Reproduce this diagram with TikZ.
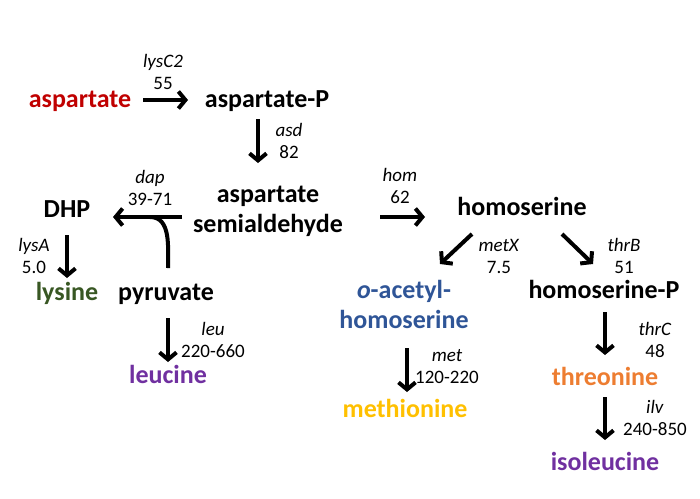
\documentclass[tikz,border=0pt]{standalone}
\usepackage{fontspec}
\setmainfont{Carlito}
\usetikzlibrary{arrows.meta,calc}
\definecolor{aspred}{HTML}{C00000}
\definecolor{lysgreen}{HTML}{385723}
\definecolor{aapurple}{HTML}{7030A0}
\definecolor{oahblue}{HTML}{2F5597}
\definecolor{metyellow}{HTML}{FFC000}
\definecolor{throrange}{HTML}{ED7D31}

\begin{document}
\begin{tikzpicture}[x=1pt,y=-1pt,
 met/.style={font=\fontsize{26}{30}\selectfont\bfseries,inner sep=0pt,anchor=base,align=center},
 enz/.style={font=\fontsize{19}{22}\selectfont,inner sep=0pt,anchor=base,align=center},
 rx/.style={line width=4pt,-{Straight Barb[length=7pt,width=17pt]}}]
\useasboundingbox (0,0) rectangle (700,498);
% metabolites
\node[met,aspred] (asp) at (80,107) {aspartate};
\node[met] (aspP) at (267,107) {aspartate-P};
\node[met] (semi) at (268,232) {aspartate\\semialdehyde};
\node[met] (DHP) at (67,217) {DHP};
\node[met,lysgreen] (lys) at (67,300) {lysine};
\node[met] (pyr) at (166,300) {pyruvate};
\node[met,aapurple] (leuc) at (168,383) {leucine};
\node[met] (homs) at (522,215) {homoserine};
\node[met,oahblue] (oah) at (404,328) {\textit{o}-acetyl-\\homoserine};
\node[met] (homP) at (604,298) {homoserine-P};
\node[met,metyellow] (meth) at (405,417) {methionine};
\node[met,throrange] (thr) at (605,385) {threonine};
\node[met,aapurple] (ile) at (605,470) {isoleucine};
% enzymes
\node[enz] (e1) at (163,89) {\textit{lysC2}\\55};
\node[enz] (e2) at (289,158) {\textit{asd}\\82};
\node[enz] (e3) at (150,205) {\textit{dap}\\39-71};
\node[enz] (e4) at (34,273) {\textit{lysA}\\5.0};
\node[enz] (e5) at (213,357) {\textit{leu}\\220-660};
\node[enz] (e6) at (400,203) {\textit{hom}\\62};
\node[enz] (e7) at (499,273) {\textit{metX}\\7.5};
\node[enz] (e8) at (624,273) {\textit{thrB}\\51};
\node[enz] (e9) at (447,383) {\textit{met}\\120-220};
\node[enz] (e10) at (655,357) {\textit{thrC}\\48};
\node[enz] (e11) at (655,435) {\textit{ilv}\\240-850};
% reactions
\draw[rx] ($(asp.base)+(63,-7)$) -- ($(aspP.base)+(-79,-7)$);
\draw[rx] ($(aspP.base)+(-9,12)$) -- ($(semi.base)+(-10,-69)$);
\draw[rx] ($(semi.base)+(-86,-15)$) -- ($(DHP.base)+(46,0)$);
\draw[line width=4pt] ($(pyr.base)+(2,-32)$) to[out=90,in=0] ($(DHP.base)+(83,0)$);
\draw[rx] ($(DHP.base)+(0,18)$) -- ($(lys.base)+(0,-22)$);
\draw[rx] ($(pyr.base)+(2,18)$) -- ($(leuc.base)+(0,-21)$);
\draw[rx] ($(semi.base)+(112,-15)$) -- ($(homs.base)+(-97,2)$);
\draw[rx] ($(homs.base)+(-50,19)$) -- ($(oah.base)+(36,-64)$);
\draw[rx] ($(homs.base)+(40,19)$) -- ($(homP.base)+(-11,-34)$);
\draw[rx] ($(oah.base)+(3,20)$) -- ($(meth.base)+(2,-25)$);
\draw[rx] ($(homP.base)+(1,14)$) -- ($(thr.base)+(0,-30)$);
\draw[rx] ($(thr.base)+(0,12)$) -- ($(ile.base)+(0,-30)$);
\end{tikzpicture}
\end{document}
